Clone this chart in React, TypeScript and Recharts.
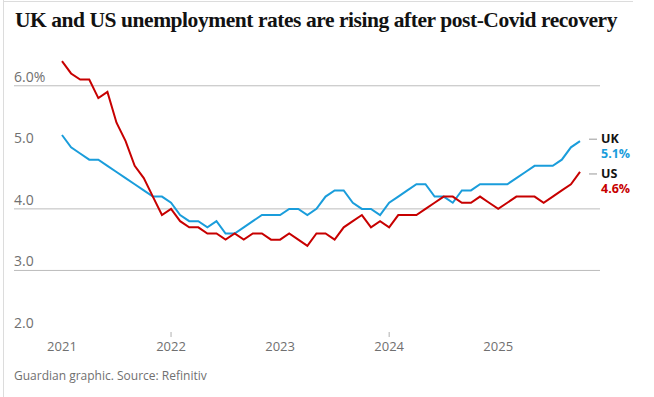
import { LineChart, Line, XAxis, YAxis, ReferenceLine, ReferenceDot } from 'recharts'

// monthly, Jan 2021 – Oct 2025
const years = ['2021', '2022', '2023', '2024', '2025']
const yearTicks = [0, 12, 24, 36, 48]
const yTicks = [2, 3, 4, 5, 6]
const gridValues = [3, 4, 6]

const ukRate = [
  5.2, 5.0, 4.9, 4.8, 4.8, 4.7, 4.6, 4.5, 4.4, 4.3, 4.2, 4.2,
  4.1, 3.9, 3.8, 3.8, 3.7, 3.8, 3.6, 3.6, 3.7, 3.8, 3.9, 3.9,
  3.9, 4.0, 4.0, 3.9, 4.0, 4.2, 4.3, 4.3, 4.1, 4.0, 4.0, 3.9,
  4.1, 4.2, 4.3, 4.4, 4.4, 4.2, 4.2, 4.1, 4.3, 4.3, 4.4, 4.4,
  4.4, 4.4, 4.5, 4.6, 4.7, 4.7, 4.7, 4.8, 5.0, 5.1,
]

const usRate = [
  6.4, 6.2, 6.1, 6.1, 5.8, 5.9, 5.4, 5.1, 4.7, 4.5, 4.2, 3.9,
  4.0, 3.8, 3.7, 3.7, 3.6, 3.6, 3.5, 3.6, 3.5, 3.6, 3.6, 3.5,
  3.5, 3.6, 3.5, 3.4, 3.6, 3.6, 3.5, 3.7, 3.8, 3.9, 3.7, 3.8,
  3.7, 3.9, 3.9, 3.9, 4.0, 4.1, 4.2, 4.2, 4.1, 4.1, 4.2, 4.1,
  4.0, 4.1, 4.2, 4.2, 4.2, 4.1, 4.2, 4.3, 4.4, 4.6,
]

const data = ukRate.map((uk, i) => ({
  t: i,
  month: `${years[Math.floor(i / 12)]}-${String((i % 12) + 1).padStart(2, '0')}`,
  uk,
  us: usRate[i],
}))

const last = data.length - 1

const UK_BLUE = '#1a9ddb'
const US_RED = '#c70000'
const GREY_TEXT = '#707070'
const SANS = '"Open Sans", "Noto Sans", sans-serif'
const PLOT_LEFT = 14

// y value label sits just above its (possibly invisible) grid line
function YLabel({ viewBox, text }: any) {
  return (
    <text x={viewBox.x} y={viewBox.y - 4} fill={GREY_TEXT} fontSize={14} fontFamily={SANS} textAnchor="start">
      {text}
    </text>
  )
}

function XTick({ x, y, payload }: any) {
  const idx = yearTicks.indexOf(payload.value)
  const marked = idx === 1 || idx === 3
  return (
    <g>
      {marked && <line x1={x} x2={x} y1={y - 8} y2={y - 3} stroke="#b0b0b0" />}
      <text x={x} y={y + 11} fill={GREY_TEXT} fontSize={13} fontFamily={SANS} textAnchor="middle">
        {years[idx]}
      </text>
    </g>
  )
}

function endLabel(name: string, color: string, value: number, nameDy: number, valueDy: number, leadDy: number) {
  return ({ cx, cy }: any) => (
    <g>
      <line x1={cx + 9} x2={cx + 17} y1={cy + leadDy} y2={cy + leadDy} stroke="#999" strokeWidth={1} />
      <text x={cx + 21} y={cy + nameDy} fill="#121212" fontSize={12.5} fontWeight={700} fontFamily={SANS}>
        {name}
      </text>
      <text x={cx + 21} y={cy + valueDy} fill={color} fontSize={12.5} fontWeight={700} fontFamily={SANS}>
        {value.toFixed(1)}%
      </text>
    </g>
  )
}

export default function App() {
  return (
    <div style={{ position: 'relative', width: 654, height: 397, background: '#fff', overflow: 'hidden' }}>
      <style>{'body{margin:0}'}</style>
      <div style={{ position: 'absolute', left: 4, top: 1, width: 629, borderTop: '1px solid #dcdcdc' }} />
      <div style={{ position: 'absolute', left: 3, top: 0, height: 397, borderLeft: '1px solid #dcdcdc' }} />
      <div
        style={{
          position: 'absolute',
          left: 15,
          top: 6,
          fontFamily: '"Liberation Serif", serif',
          fontWeight: 700,
          fontSize: 21.5,
          letterSpacing: -0.45,
          color: '#121212',
          whiteSpace: 'nowrap',
          lineHeight: '28px',
        }}
      >
        UK and US unemployment rates are rising after post-Covid recovery
      </div>
      <LineChart
        width={654}
        height={397}
        data={data}
        margin={{ top: 55, right: 54, bottom: 35, left: PLOT_LEFT }}
        style={{ position: 'absolute', left: 0, top: 0 }}
      >
        <XAxis
          type="number"
          dataKey="t"
          domain={[-5.28, 59.2]}
          allowDataOverflow
          ticks={yearTicks}
          tick={<XTick />}
          axisLine={false}
          tickLine={false}
          height={30}
          interval={0}
        />
        <YAxis type="number" domain={[2, 6.5]} allowDataOverflow hide width={0} />
        {yTicks.map((v) => (
          <ReferenceLine
            key={v}
            y={v}
            stroke={gridValues.includes(v) ? '#bcbcbc' : 'none'}
            strokeWidth={1}
            label={<YLabel text={v === 6 ? '6.0%' : v.toFixed(1)} />}
          />
        ))}
        <Line
          type="linear"
          dataKey="uk"
          stroke={UK_BLUE}
          strokeWidth={2}
          dot={false}
          isAnimationActive={false}
        />
        <Line
          type="linear"
          dataKey="us"
          stroke={US_RED}
          strokeWidth={2}
          dot={false}
          isAnimationActive={false}
        />
        <ReferenceDot
          x={data[last].t}
          y={data[last].uk}
          r={0}
          shape={endLabel('UK', UK_BLUE, data[last].uk, 2, 17, -2)}
        />
        <ReferenceDot
          x={data[last].t}
          y={data[last].us}
          r={0}
          shape={endLabel('US', US_RED, data[last].us, 6, 21, 2)}
        />
      </LineChart>
      <div
        style={{
          position: 'absolute',
          left: 14,
          top: 367,
          fontFamily: SANS,
          fontSize: 12,
          color: GREY_TEXT,
          whiteSpace: 'nowrap',
        }}
      >
        Guardian graphic. Source: Refinitiv
      </div>
    </div>
  )
}
